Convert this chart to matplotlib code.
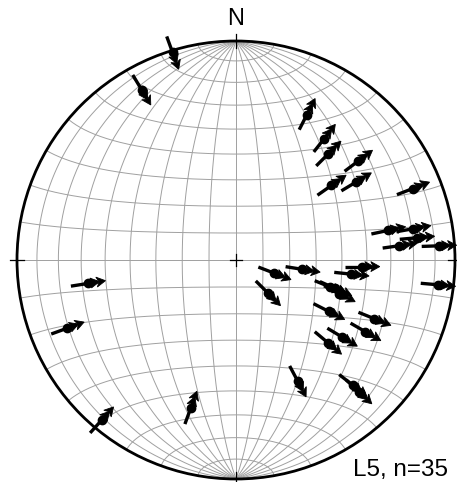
import numpy as np
import matplotlib
matplotlib.use("Agg")
import matplotlib.pyplot as plt
from matplotlib.patches import Polygon, Circle

# lineations: trend / plunge (deg) and the sense arrow azimuth (deg, on the plot)
trend = [343, 331, 26, 36, 41, 51, 52, 57, 68, 79, 80, 83, 85, 86, 97,
         109, 136, 98, 93, 97, 106, 108, 106, 119, 113, 119, 126, 132, 153, 137, 137,
         261, 248, 220, 197]
plunge = [1, 12, 27, 32, 36, 29, 44, 35, 14, 30, 19, 18, 26, 8, 8,
          75, 73, 65, 42, 46, 53, 49, 51, 50, 32, 33, 40, 43, 38, 23, 19,
          32, 18, 5, 30]
sense = [160, 149, 27, 38, 45, 53, 55, 59, 69, 78, 80, 85, 82, 88, 95,
         111, 135, 99, 90, 96, 112, 117, 114, 117, 112, 120, 121, 130, 152, 128, 133,
         81, 70, 42, 20]
label = "L5, n=35"

R_PX = 219.0


def project(tr, pl):
    tr = np.radians(tr)
    pl = np.radians(pl)
    x = np.cos(pl) * np.sin(tr)
    y = np.cos(pl) * np.cos(tr)
    z = np.sin(pl)
    k = 1 / np.sqrt(1 + z)
    return x * k, y * k


def proj_vec(x, y, z):
    k = 1 / np.sqrt(1 + z)
    return x * k, y * k


fig = plt.figure(figsize=(4.57, 4.82), dpi=100)
ax = fig.add_axes([0, 0, 1, 1])
ax.set_xlim(-236 / R_PX, (457 - 236) / R_PX)
ax.set_ylim(-(482 - 260) / R_PX, 260 / R_PX)
ax.set_aspect("equal")
ax.axis("off")

grid_kw = dict(color="#a0a0a0", lw=0.7, zorder=1)
t = np.linspace(0, np.pi, 300)
# great circles striking N-S
for d in range(10, 90, 10):
    dd = np.radians(d)
    for s in (1, -1):
        vx = s * np.sin(t) * np.cos(dd)
        vy = np.cos(t)
        vz = np.sin(t) * np.sin(dd)
        X, Y = proj_vec(vx, vy, vz)
        ax.plot(X, Y, **grid_kw)
ax.plot([0, 0], [-1, 1], **grid_kw)
# small circles about N-S axis
for a in range(10, 180, 10):
    aa = np.radians(a)
    vx = np.sin(aa) * np.cos(t)
    vy = np.full_like(t, np.cos(aa))
    vz = np.sin(aa) * np.sin(t)
    X, Y = proj_vec(vx, vy, vz)
    ax.plot(X, Y, **grid_kw)

ax.add_patch(Circle((0, 0), 1, fill=False, ec="black", lw=2.0, zorder=3))

px = 1 / R_PX
# ticks and center cross
ax.plot([0, 0], [1 - 7 * px, 1 + 7 * px], color="black", lw=0.9, zorder=3)
ax.plot([0, 0], [-1 - 7 * px, -1 + 7 * px], color="black", lw=0.9, zorder=3)
ax.plot([-1 - 7 * px, -1 + 7 * px], [0, 0], color="black", lw=0.9, zorder=3)
ax.plot([1 - 7 * px, 1 + 7 * px], [0, 0], color="black", lw=0.9, zorder=3)
ax.plot([-6 * px, 6 * px], [0, 0], color="black", lw=0.9, zorder=3)
ax.plot([0, 0], [-6 * px, 6 * px], color="black", lw=0.9, zorder=3)

ax.text(0, 1 + 11 * px, "N", ha="center", va="bottom", fontsize=17,
        family="Liberation Sans")
ax.text(448 / R_PX - 236 / R_PX, -(476 - 260) / R_PX, label, ha="right",
        va="baseline", fontsize=17.5, family="Liberation Sans")

# arrows
X, Y = project(np.array(trend), np.array(plunge))
for x0, y0, az in zip(X, Y, sense):
    u = np.array([np.sin(np.radians(az)), np.cos(np.radians(az))])
    n = np.array([-u[1], u[0]])
    c = np.array([x0, y0])
    tail = c - 17 * px * u
    ax.plot([tail[0], (c + 10 * px * u)[0]], [tail[1], (c + 10 * px * u)[1]],
            color="black", lw=2.4, solid_capstyle="butt", zorder=5)
    for tip, back in ((18, 9), (12, 3)):
        pts = [c + tip * px * u,
               c + back * px * u + 5 * px * n,
               c + (back + 2.5) * px * u,
               c + back * px * u - 5 * px * n]
        ax.add_patch(Polygon(pts, closed=True, fc="black", ec="black",
                             lw=0.6, zorder=5))
    ax.plot(x0, y0, "o", color="black", ms=6, zorder=6)

fig.savefig("out.png", dpi=100)
